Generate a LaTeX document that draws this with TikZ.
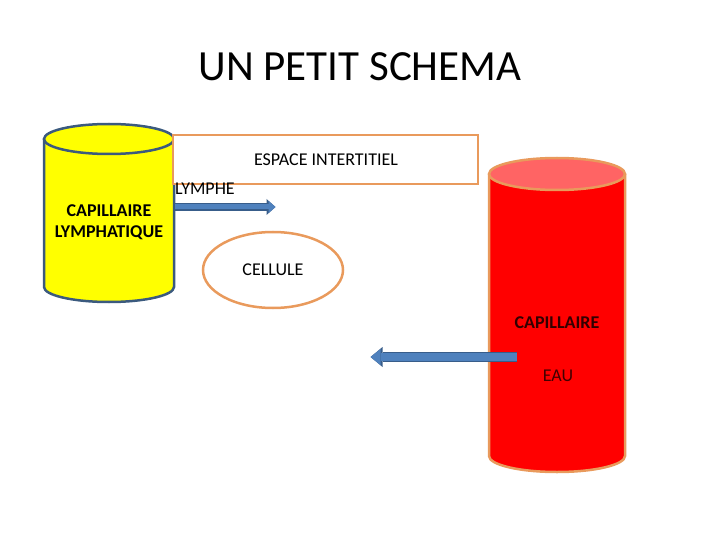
\documentclass[tikz,border=0pt]{standalone}
\usepackage{fontspec}
\setmainfont{Carlito}
\usetikzlibrary{arrows.meta}
\definecolor{cylyellow}{HTML}{FFFF00}
\definecolor{cylblue}{HTML}{3B5A7E}
\definecolor{cylred}{HTML}{FF0000}
\definecolor{cyltop}{HTML}{FF6464}
\definecolor{boxorange}{HTML}{E99A5C}
\definecolor{arrowblue}{HTML}{4F81BD}
\definecolor{arrowdark}{HTML}{385D8A}

\begin{document}
\begin{tikzpicture}[x=1pt,y=-1pt,
    txt/.style={font=\fontsize{18}{22}\selectfont, inner sep=0pt},
    outline/.style={draw=boxorange, line width=2.5pt},
    flowsmall/.style={draw=arrowblue, line width=5pt, shorten <=1.2pt, shorten >=1.5pt,
      -{Triangle[length=7pt,width=12pt,line width=0pt]},
      preaction={draw=arrowdark, line width=8pt, -{Triangle[length=9pt,width=16pt,line width=0pt]}}},
    flowbig/.style={draw=arrowblue, line width=7.5pt, shorten <=1.2pt, shorten >=1.5pt,
      -{Triangle[length=10pt,width=16pt,line width=0pt]},
      preaction={draw=arrowdark, line width=10pt, -{Triangle[length=12pt,width=20pt,line width=0pt]}}}]
  \useasboundingbox (0,0) rectangle (720,540);
  \node (title) at (360,67) {\fontsize{43}{50}\selectfont UN PETIT SCHEMA};
  % lymphatic capillary
  \fill[cylyellow] (44,139) -- (44,287) arc[start angle=180,end angle=0,x radius=65,y radius=15] -- (174,139) -- cycle;
  \draw[cylblue, line width=2.5pt] (44,139) -- (44,287) arc[start angle=180,end angle=0,x radius=65,y radius=15] -- (174,139);
  \filldraw[fill=cylyellow, draw=cylblue, line width=2.5pt] (109,139) ellipse[x radius=65,y radius=15];
  \node[txt, font=\fontsize{18}{21}\selectfont\bfseries, align=center] (lymcap) at (109,222) {CAPILLAIRE\\LYMPHATIQUE};
  % interstitial space
  \draw[outline, fill=white] (173,135) rectangle (478,184);
  \node[txt] (espace) at (326,160) {ESPACE INTERTITIEL};
  \node[txt, anchor=west] (lymphe) at (175,189) {LYMPHE};
  % cell
  \draw[outline] (273,270) ellipse[x radius=70,y radius=38];
  \node[txt] (cellule) at (273,270) {CELLULE};
  % blood capillary
  \fill[cylred] (489,174) -- (489,456) arc[start angle=180,end angle=0,x radius=68,y radius=16] -- (625,174) -- cycle;
  \draw[outline] (489,174) -- (489,456) arc[start angle=180,end angle=0,x radius=68,y radius=16] -- (625,174);
  \filldraw[fill=cyltop, outline] (557,174) ellipse[x radius=68,y radius=16];
  \node[txt, font=\fontsize{18}{22}\selectfont\bfseries, text=black!80!red] (capil) at (557,323) {CAPILLAIRE};
  \node[txt, text=black!75!red] (eau) at (558,376) {EAU};
  % flows
  \coordinate (lymA) at (174,207);
  \coordinate (lymB) at (277,207);
  \draw[flowsmall] (lymA) -- (lymB);
  \coordinate (eauA) at (518,357);
  \coordinate (eauB) at (369,357);
  \draw[flowbig] (eauA) -- (eauB);
\end{tikzpicture}
\end{document}
